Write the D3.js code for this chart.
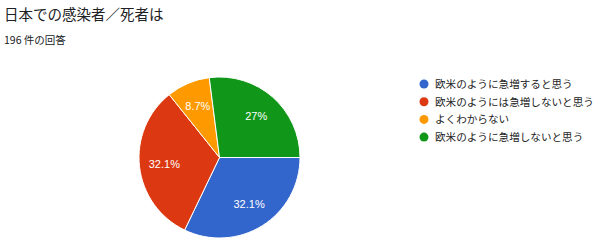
<!DOCTYPE html>
<html>
<head>
<meta charset="utf-8">
<script src="https://d3js.org/d3.v7.min.js"></script>
<style>
  body { margin: 0; background: #fff; }
  svg { display: block; font-family: "Noto Sans CJK JP", "Liberation Sans", sans-serif; }
</style>
</head>
<body>
<div id="chart"></div>
<script>
const title = "日本での感染者／死者は";
const subtitle = "196 件の回答";
const categories = ["欧米のように急増すると思う", "欧米のようには急増しないと思う", "よくわからない", "欧米のように急増しないと思う"];
const values = [32.1, 32.1, 8.7, 27];
const labels = ["32.1%", "32.1%", "8.7%", "27%"];
const colors = ["#3366cc", "#dc3912", "#ff9900", "#109618"];

const chart = {};
chart.width = 600;
chart.height = 249;
chart.cx = 219.5;
chart.cy = 157.5;
chart.r = 80.5;

const svg = d3.select("#chart")
    .append("svg")
    .attr("width", chart.width)
    .attr("height", chart.height);

svg.append("text")
    .attr("x", 4)
    .attr("y", 20)
    .style("font-size", "14.5px")
    .style("fill", "#202124")
    .text(title);

svg.append("text")
    .attr("x", 4)
    .attr("y", 44)
    .style("font-size", "10.5px")
    .style("fill", "#202124")
    .text(subtitle);

const data = categories.map((c, i) => ({ name: c, value: values[i], label: labels[i], color: colors[i] }));

const pie = d3.pie()
    .value(d => d.value)
    .sort(null)
    .startAngle(Math.PI / 2)
    .endAngle(Math.PI / 2 + 2 * Math.PI);

const arc = d3.arc().innerRadius(0).outerRadius(chart.r);
const labelArc = d3.arc().innerRadius(chart.r * 0.69).outerRadius(chart.r * 0.69);

const g = svg.append("g")
    .attr("transform", `translate(${chart.cx},${chart.cy})`);

const arcs = pie(data);

g.selectAll(".slice")
    .data(arcs)
    .enter()
    .append("path")
    .attr("class", "slice")
    .attr("d", arc)
    .attr("fill", d => d.data.color)
    .attr("stroke", "#fff")
    .attr("stroke-width", 1);

g.selectAll(".label")
    .data(arcs)
    .enter()
    .append("text")
    .attr("class", "label")
    .attr("transform", d => `translate(${labelArc.centroid(d)})`)
    .attr("text-anchor", "middle")
    .attr("dy", "0.35em")
    .style("font-family", "'Liberation Sans', Arial, sans-serif")
    .style("font-size", "11px")
    .style("fill", "#fff")
    .text(d => d.data.label);

const legend = svg.append("g")
    .attr("transform", "translate(424,84)");

const item = legend.selectAll(".item")
    .data(data)
    .enter()
    .append("g")
    .attr("class", "item")
    .attr("transform", (d, i) => `translate(0,${i * 17.7})`);

item.append("circle")
    .attr("r", 4.5)
    .attr("fill", d => d.color);

item.append("text")
    .attr("x", 11)
    .attr("dy", "0.36em")
    .style("font-size", "10.6px")
    .style("fill", "#222")
    .text(d => d.name);
</script>
</body>
</html>
